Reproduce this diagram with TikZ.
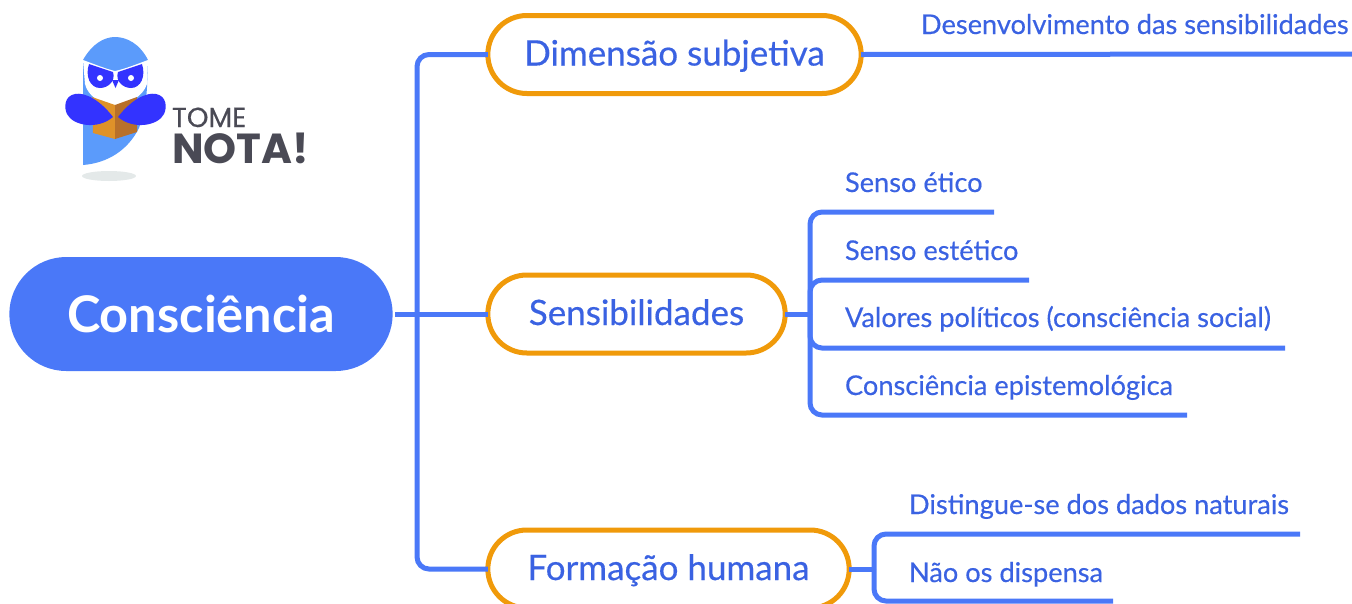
\documentclass[tikz,border=0pt]{standalone}
\usepackage{fontspec}
\setmainfont{Lato}
\newfontfamily\labelfont[FakeBold=0.4]{Lato}
\newfontfamily\logofont[FakeBold=0.5]{Poppins}
\newfontfamily\logoboldfont{Poppins}
\usetikzlibrary{shapes.misc}
\definecolor{linkblue}{HTML}{4A78F8}
\definecolor{textblue}{HTML}{3A62E2}
\definecolor{ringorange}{HTML}{F09A0A}
\definecolor{owlbody}{HTML}{5B9BFB}
\definecolor{owlwing}{HTML}{3333FF}
\definecolor{bookleft}{HTML}{DF9229}
\definecolor{bookright}{HTML}{B8702A}
\definecolor{logogray}{HTML}{4A4A55}
\definecolor{owlshadow}{HTML}{E4E9E9}
\tikzset{
  mainnode/.style={shape=rounded rectangle, fill=linkblue, text=white, minimum width=390pt, minimum height=114pt, font=\fontsize{50.5}{50.5}\selectfont\bfseries},
  topicnode/.style={shape=rounded rectangle, draw=ringorange, line width=5pt, fill=white, text=textblue, minimum height=78pt, text height=23pt, text depth=1pt, font=\labelfont\fontsize{35}{35}\selectfont},
  leafnode/.style={anchor=base west, inner sep=0pt, text=textblue, font=\labelfont\fontsize{27.2}{27.2}\selectfont},
  link/.style={draw=linkblue, line width=5pt, rounded corners=12pt}
}
\begin{document}
\begin{tikzpicture}[x=1pt, y=-1pt, every node/.style={outer sep=0pt}]
\path[use as bounding box] (0,0) rectangle (1352,603);
\clip (0,0) rectangle (1352,603);

\fill[owlshadow] (109,176) ellipse [x radius=27pt, y radius=5pt];
\fill[owlbody] (83,60) .. controls (92,44) and (104,37) .. (115,37) .. controls (127,37) and (140,44) .. (148,60) -- (147,87) .. controls (146,105) and (143,118) .. (139,128) .. controls (128,150) and (108,163) .. (83,165) -- cycle;
\fill[white] (83,60) .. controls (94,64) and (106,69) .. (115,71) .. controls (125,69) and (137,64) .. (148,60) -- (147,84) .. controls (143,96) and (130,104) .. (115,105) .. controls (100,104) and (88,96) .. (85,84) -- cycle;
\fill[bookleft] (92,97) -- (115,105) -- (115,139) -- (93,133) -- cycle;
\fill[bookright] (137,97) -- (115,105) -- (115,139) -- (137,132) -- cycle;
\fill[owlwing] (113,117) .. controls (100,100) and (85,92) .. (75,94) .. controls (64,96) and (64,108) .. (67,114) .. controls (73,126) and (98,130) .. (113,117) -- cycle;
\fill[owlwing] (118,117) .. controls (131,100) and (146,92) .. (156,94) .. controls (167,96) and (167,108) .. (164,114) .. controls (158,126) and (133,130) .. (118,117) -- cycle;
\fill[owlwing] (89,64) -- (113,72) .. controls (116,81) and (108,88) .. (100,88) .. controls (90,88) and (85,76) .. (89,64) -- cycle;
\fill[owlwing] (142,64) -- (118,72) .. controls (115,81) and (123,88) .. (131,88) .. controls (141,88) and (146,76) .. (142,64) -- cycle;
\fill[white] (100,78) circle [radius=3pt];
\fill[white] (131,78) circle [radius=3pt];
\fill[owlwing] (112,80) -- (119,80) -- (115.5,88) -- cycle;
\node[text=logogray, inner sep=0pt, anchor=base west, font=\logofont\fontsize{27.5}{27.5}\selectfont] (tome) at (172,127) {TOME};
\node[text=logogray, inner sep=0pt, anchor=base west, font=\logoboldfont\fontsize{42}{42}\selectfont\bfseries] (nota) at (172,163) {NOTA!};

\node[mainnode] (consciencia) at (201,314) {Consciência};
\node[topicnode, minimum width=380pt] (dimensao) at (674.5,54.5) {Dimensão subjetiva};
\node[topicnode, minimum width=304pt] (sensibilidades) at (636.5,314) {Sensibilidades};
\node[topicnode, minimum width=368pt] (formacao) at (668.5,569) {Formação humana};

\node[leafnode] (desenv) at (921,34) {Desenvolvimento das sensibilidades};
\node[leafnode] (etico) at (845,192) {Senso ético};
\node[leafnode] (estetico) at (845,260) {Senso estético};
\node[leafnode] (valores) at (845,327) {Valores políticos (consciência social)};
\node[leafnode] (episte) at (845,395) {Consciência epistemológica};
\node[leafnode] (distingue) at (909,514) {Distingue-se dos dados naturais};
\node[leafnode] (dispensa) at (909,582) {Não os dispensa};

\coordinate (consout) at (395,314);
\coordinate (trunk) at (417,314);
\coordinate (sensbus) at (810,314);
\coordinate (formbus) at (874,569);
\coordinate (desenvend) at (1352,54);
\coordinate (eticoend) at (994,212);
\coordinate (esteticoend) at (1029,280);
\coordinate (valoresend) at (1285,348);
\coordinate (episteend) at (1187,415);
\coordinate (distingueend) at (1300,534);
\coordinate (dispensaend) at (1113,601);

\draw[link] (consout) -- (sensibilidades.west);
\draw[link] (dimensao.west) -| (trunk) |- (formacao.west);
\draw[link] (dimensao.east) -- (desenvend);
\draw[link] (sensibilidades.east) -- (sensbus);
\draw[link] (sensbus) |- (eticoend);
\draw[link] (sensbus) |- (esteticoend);
\draw[link] (sensbus) |- (valoresend);
\draw[link] (sensbus) |- (episteend);
\draw[link] (formacao.east) -- (formbus);
\draw[link] (formbus) |- (distingueend);
\draw[link] (formbus) |- (dispensaend);
\end{tikzpicture}
\end{document}
